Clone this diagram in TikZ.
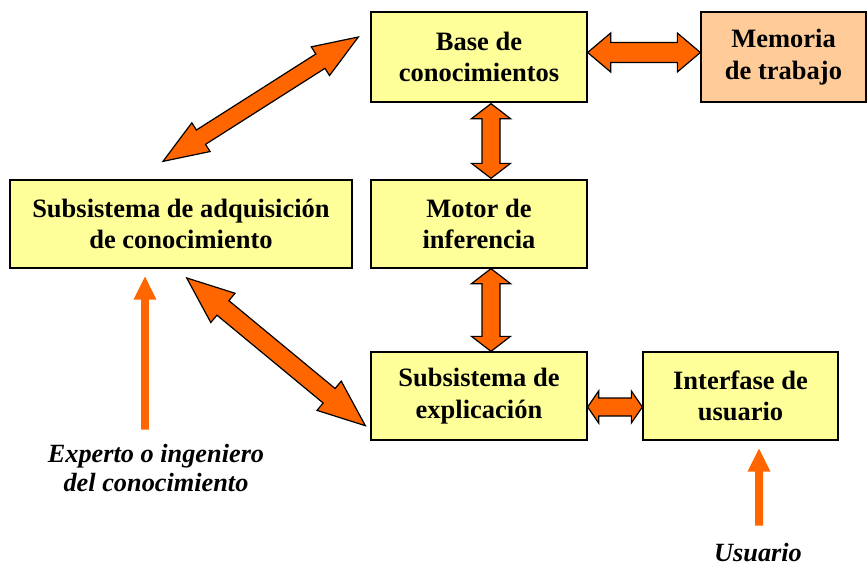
\documentclass[tikz,border=0pt]{standalone}
\usepackage{fontspec}
\setmainfont{Liberation Serif}
\usetikzlibrary{calc}
\definecolor{boxyellow}{HTML}{FFFF99}
\definecolor{boxpeach}{HTML}{FFCC99}
\definecolor{arroworange}{HTML}{FF6600}
\tikzset{
  block/.style={draw=black, line width=1.3pt, fill=boxyellow, align=center,
    inner sep=0pt, font=\bfseries\fontsize{26.5}{31.5}\selectfont},
  fatarrowstyle/.style={draw=black, line width=1.2pt, fill=arroworange, line join=miter},
  thinarrowstyle/.style={fill=arroworange, draw=none},
  label/.style={align=center, font=\bfseries\itshape\fontsize{26.3}{30}\selectfont}
}
% #1 start, #2 end, #3 shaft half width, #4 head half width, #5 head length
\newcommand\fatarrow[5]{%
  \draw[fatarrowstyle] (#1)
    -- ($(#1)!#5!(#2)!#4!90:(#2)$)
    -- ($(#1)!#5!(#2)!#3!90:(#2)$)
    -- ($(#2)!#5!(#1)!#3!-90:(#1)$)
    -- ($(#2)!#5!(#1)!#4!-90:(#1)$)
    -- (#2)
    -- ($(#2)!#5!(#1)!#4!90:(#1)$)
    -- ($(#2)!#5!(#1)!#3!90:(#1)$)
    -- ($(#1)!#5!(#2)!#3!-90:(#2)$)
    -- ($(#1)!#5!(#2)!#4!-90:(#2)$)
    -- cycle;}
% #1 tail, #2 tip, #3 shaft half, #4 head half, #5 head length
\newcommand\thinarrow[5]{%
  \fill[thinarrowstyle] ($(#1)!#3!90:(#2)$)
    -- ($(#2)!#5!(#1)!#3!-90:(#1)$)
    -- ($(#2)!#5!(#1)!#4!-90:(#1)$)
    -- (#2)
    -- ($(#2)!#5!(#1)!#4!90:(#1)$)
    -- ($(#2)!#5!(#1)!#3!90:(#1)$)
    -- ($(#1)!#3!-90:(#2)$)
    -- cycle;}
\begin{document}
\begin{tikzpicture}[x=1pt,y=-1pt]
\useasboundingbox (0,0) rectangle (868,565);
% boxes
\node[block, minimum width=216pt, minimum height=90pt] (base) at (479,57) {Base de\\conocimientos};
\node[block, fill=boxpeach, minimum width=165pt, minimum height=90pt] (mem) at (783.5,57) {Memoria\\de trabajo};
\node[block, minimum width=342pt, minimum height=88pt] (adq) at (181,224) {Subsistema de adquisición\\de conocimiento};
\node[block, minimum width=216pt, minimum height=88pt] (motor) at (479,224) {Motor de\\inferencia};
\node[block, minimum width=216pt, minimum height=88pt] (expl) at (479,396) {Subsistema de\\explicación};
\node[block, minimum width=195pt, minimum height=88pt] (inter) at (740.5,396) {Interfase de\\usuario};
% labels
\node[label, anchor=base] (expertoA) at (156,462) {Experto o ingeniero};
\node[label, anchor=base] (expertoB) at (156,491) {del conocimiento};
\node[label, anchor=base] (usuario) at (758,561) {Usuario};
% arrow end points
\coordinate (h1a) at ([yshift=4.5pt]base.east);
\coordinate (h1b) at ([yshift=4.5pt]mem.west);
\coordinate (v1a) at ([xshift=12pt,yshift=-1pt]base.south);
\coordinate (v1b) at ([xshift=12pt,yshift=1pt]motor.north);
\coordinate (v2a) at ([xshift=12pt]motor.south);
\coordinate (v2b) at ([xshift=12pt]expl.north);
\coordinate (h2a) at ([yshift=-11pt]expl.east);
\coordinate (h2b) at ([yshift=-11pt]inter.west);
\coordinate (d1a) at ([xshift=-18pt,yshift=18pt]adq.north);
\coordinate (d1b) at ([xshift=-12pt,yshift=20pt]base.west);
\coordinate (d2a) at ([xshift=5.7pt,yshift=-9.3pt]adq.south);
\coordinate (d2b) at ([xshift=-5pt,yshift=-29.7pt]expl.west);
\coordinate (e1tip) at ([xshift=-36pt,yshift=-8pt]adq.south);
\coordinate (e1tail) at ([yshift=-153pt]e1tip);
\coordinate (u1tip) at ([xshift=18.5pt,yshift=-8pt]inter.south);
\coordinate (u1tail) at ([yshift=-77pt]u1tip);
% fat double arrows
\fatarrow{h1a}{h1b}{10pt}{19.5pt}{23pt}
\fatarrow{v1a}{v1b}{9pt}{19.5pt}{15pt}
\fatarrow{v2a}{v2b}{9pt}{19.5pt}{15pt}
\fatarrow{h2a}{h2b}{9pt}{16pt}{11pt}
\fatarrow{d1a}{d1b}{8.5pt}{17pt}{45pt}
\fatarrow{d2a}{d2b}{9.4pt}{19pt}{47pt}
% single arrows
\thinarrow{e1tail}{e1tip}{3.8pt}{11.5pt}{23pt}
\thinarrow{u1tail}{u1tip}{4pt}{11.5pt}{23pt}
\end{tikzpicture}
\end{document}
